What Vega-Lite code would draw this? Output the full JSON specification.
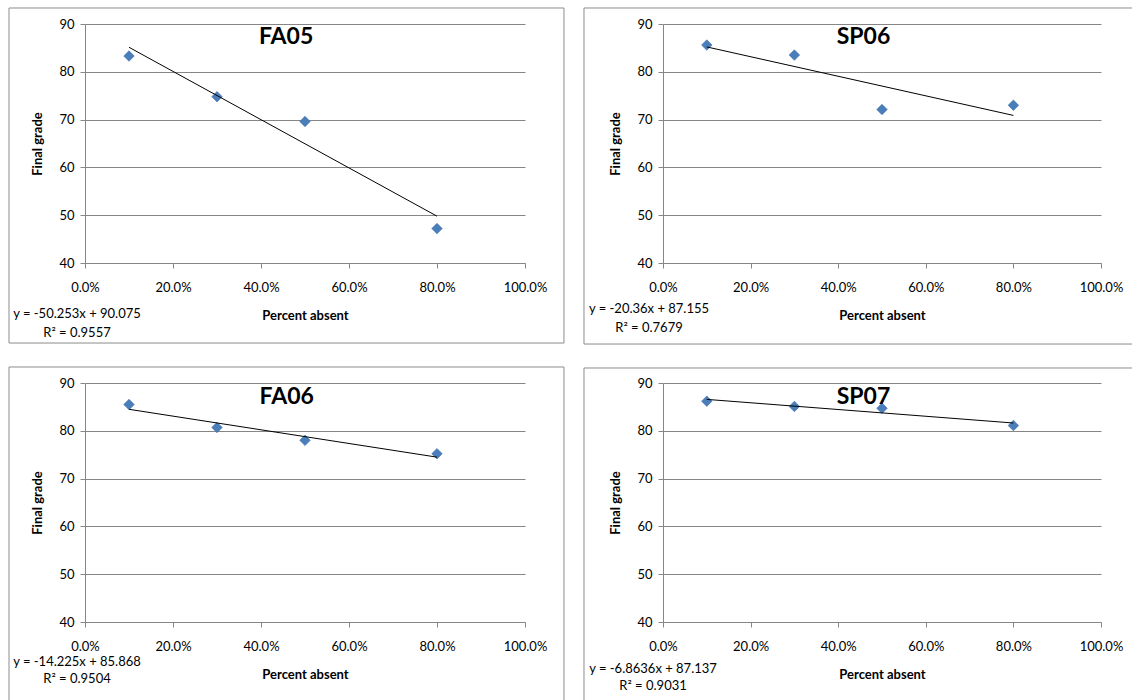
{
  "$schema": "https://vega.github.io/schema/vega-lite/v6.json",
  "background": "white",
  "padding": {"left": 8, "top": 7, "right": 0, "bottom": 0},
  "datasets": {
    "grades": [
      {"term": "FA05", "absent": 0.1, "grade": 83.3},
      {"term": "FA05", "absent": 0.3, "grade": 74.8},
      {"term": "FA05", "absent": 0.5, "grade": 69.6},
      {"term": "FA05", "absent": 0.8, "grade": 47.2},
      {"term": "SP06", "absent": 0.1, "grade": 85.6},
      {"term": "SP06", "absent": 0.3, "grade": 83.5},
      {"term": "SP06", "absent": 0.5, "grade": 72.1},
      {"term": "SP06", "absent": 0.8, "grade": 73.0},
      {"term": "FA06", "absent": 0.1, "grade": 85.5},
      {"term": "FA06", "absent": 0.3, "grade": 80.7},
      {"term": "FA06", "absent": 0.5, "grade": 78.0},
      {"term": "FA06", "absent": 0.8, "grade": 75.2},
      {"term": "SP07", "absent": 0.1, "grade": 86.2},
      {"term": "SP07", "absent": 0.3, "grade": 85.1},
      {"term": "SP07", "absent": 0.5, "grade": 84.7},
      {"term": "SP07", "absent": 0.8, "grade": 81.1}
    ],
    "panels": [
      {"term": "FA05", "eq": "y = -50.253x + 90.075", "r2": "R² = 0.9557"},
      {"term": "SP06", "eq": "y = -20.36x + 87.155", "r2": "R² = 0.7679"},
      {"term": "FA06", "eq": "y = -14.225x + 85.868", "r2": "R² = 0.9504"},
      {"term": "SP07", "eq": "y = -6.8636x + 87.137", "r2": "R² = 0.9031"}
    ]
  },
  "spacing": 21,
  "vconcat": [
    {
      "spacing": 18,
      "hconcat": [
        {
          "width": 440, "height": 239,
          "layer": [
            {
              "data": {"name": "grades"},
              "transform": [{"filter": "datum.term === 'FA05'"}],
              "mark": {"type": "point", "shape": "diamond", "filled": true, "size": 110, "color": "#4A7EBB", "stroke": "#3D6DA6", "strokeWidth": 0.6, "opacity": 1},
              "encoding": {
                "x": {"field": "absent", "type": "quantitative", "scale": {"domain": [0, 1]}, "axis": {"title": "Percent absent", "values": [0, 0.2, 0.4, 0.6, 0.8, 1], "format": ".1%"}},
                "y": {"field": "grade", "type": "quantitative", "scale": {"domain": [40, 90]}, "axis": {"title": "Final grade", "values": [40, 50, 60, 70, 80, 90]}}
              }
            },
            {
              "data": {"name": "grades"},
              "transform": [{"filter": "datum.term === 'FA05'"}, {"regression": "grade", "on": "absent"}],
              "mark": {"type": "line", "color": "#000000", "strokeWidth": 1},
              "encoding": {
                "x": {"field": "absent", "type": "quantitative", "scale": {"domain": [0, 1]}, "axis": {"title": "Percent absent", "values": [0, 0.2, 0.4, 0.6, 0.8, 1], "format": ".1%"}},
                "y": {"field": "grade", "type": "quantitative", "scale": {"domain": [40, 90]}, "axis": {"title": "Final grade", "values": [40, 50, 60, 70, 80, 90]}}
              }
            },
            {
              "data": {"name": "panels"},
              "transform": [{"filter": "datum.term === 'FA05'"}],
              "layer": [
                {"mark": {"type": "rect", "filled": false, "stroke": "#8c8c8c", "strokeWidth": 1},
                 "encoding": {"x": {"datum": -0.1727, "type": "quantitative", "scale": {"domain": [0, 1]}}, "x2": {"datum": 1.0886},
                              "y": {"datum": 93.35, "type": "quantitative", "scale": {"domain": [40, 90]}}, "y2": {"datum": 23.26}}},
                {"mark": {"type": "text", "fontSize": 23, "fontWeight": "bold", "align": "center", "baseline": "alphabetic", "color": "#000000"},
                 "encoding": {"x": {"datum": 0.457, "type": "quantitative", "scale": {"domain": [0, 1]}},
                              "y": {"datum": 85.82, "type": "quantitative", "scale": {"domain": [40, 90]}}, "text": {"field": "term"}}},
                {"mark": {"type": "text", "fontSize": 13, "align": "center", "baseline": "middle", "color": "#000000"},
                 "encoding": {"x": {"datum": -0.0182, "type": "quantitative", "scale": {"domain": [0, 1]}},
                              "y": {"datum": 29.33, "type": "quantitative", "scale": {"domain": [40, 90]}}, "text": {"field": "eq"}}},
                {"mark": {"type": "text", "fontSize": 13, "align": "center", "baseline": "middle", "color": "#000000"},
                 "encoding": {"x": {"datum": -0.0182, "type": "quantitative", "scale": {"domain": [0, 1]}},
                              "y": {"datum": 25.36, "type": "quantitative", "scale": {"domain": [40, 90]}}, "text": {"field": "r2"}}}
              ]
            }
          ]
        },
        {
          "width": 438, "height": 239,
          "layer": [
            {
              "data": {"name": "grades"},
              "transform": [{"filter": "datum.term === 'SP06'"}],
              "mark": {"type": "point", "shape": "diamond", "filled": true, "size": 110, "color": "#4A7EBB", "stroke": "#3D6DA6", "strokeWidth": 0.6, "opacity": 1},
              "encoding": {
                "x": {"field": "absent", "type": "quantitative", "scale": {"domain": [0, 1]}, "axis": {"title": "Percent absent", "values": [0, 0.2, 0.4, 0.6, 0.8, 1], "format": ".1%"}},
                "y": {"field": "grade", "type": "quantitative", "scale": {"domain": [40, 90]}, "axis": {"title": "Final grade", "values": [40, 50, 60, 70, 80, 90]}}
              }
            },
            {
              "data": {"name": "grades"},
              "transform": [{"filter": "datum.term === 'SP06'"}, {"regression": "grade", "on": "absent"}],
              "mark": {"type": "line", "color": "#000000", "strokeWidth": 1},
              "encoding": {
                "x": {"field": "absent", "type": "quantitative", "scale": {"domain": [0, 1]}, "axis": {"title": "Percent absent", "values": [0, 0.2, 0.4, 0.6, 0.8, 1], "format": ".1%"}},
                "y": {"field": "grade", "type": "quantitative", "scale": {"domain": [40, 90]}, "axis": {"title": "Final grade", "values": [40, 50, 60, 70, 80, 90]}}
              }
            },
            {
              "data": {"name": "panels"},
              "transform": [{"filter": "datum.term === 'SP06'"}],
              "layer": [
                {"mark": {"type": "rect", "filled": false, "stroke": "#8c8c8c", "strokeWidth": 1},
                 "encoding": {"x": {"datum": -0.1804, "type": "quantitative", "scale": {"domain": [0, 1]}}, "x2": {"datum": 1.0868},
                              "y": {"datum": 93.35, "type": "quantitative", "scale": {"domain": [40, 90]}}, "y2": {"datum": 23.05}}},
                {"mark": {"type": "text", "fontSize": 23, "fontWeight": "bold", "align": "center", "baseline": "alphabetic", "color": "#000000"},
                 "encoding": {"x": {"datum": 0.4578, "type": "quantitative", "scale": {"domain": [0, 1]}},
                              "y": {"datum": 85.82, "type": "quantitative", "scale": {"domain": [40, 90]}}, "text": {"field": "term"}}},
                {"mark": {"type": "text", "fontSize": 13, "align": "center", "baseline": "middle", "color": "#000000"},
                 "encoding": {"x": {"datum": -0.032, "type": "quantitative", "scale": {"domain": [0, 1]}},
                              "y": {"datum": 30.38, "type": "quantitative", "scale": {"domain": [40, 90]}}, "text": {"field": "eq"}}},
                {"mark": {"type": "text", "fontSize": 13, "align": "center", "baseline": "middle", "color": "#000000"},
                 "encoding": {"x": {"datum": -0.032, "type": "quantitative", "scale": {"domain": [0, 1]}},
                              "y": {"datum": 26.4, "type": "quantitative", "scale": {"domain": [40, 90]}}, "text": {"field": "r2"}}}
              ]
            }
          ]
        }
      ]
    },
    {
      "spacing": 18,
      "hconcat": [
        {
          "width": 440, "height": 239,
          "layer": [
            {
              "data": {"name": "grades"},
              "transform": [{"filter": "datum.term === 'FA06'"}],
              "mark": {"type": "point", "shape": "diamond", "filled": true, "size": 110, "color": "#4A7EBB", "stroke": "#3D6DA6", "strokeWidth": 0.6, "opacity": 1},
              "encoding": {
                "x": {"field": "absent", "type": "quantitative", "scale": {"domain": [0, 1]}, "axis": {"title": "Percent absent", "values": [0, 0.2, 0.4, 0.6, 0.8, 1], "format": ".1%"}},
                "y": {"field": "grade", "type": "quantitative", "scale": {"domain": [40, 90]}, "axis": {"title": "Final grade", "values": [40, 50, 60, 70, 80, 90]}}
              }
            },
            {
              "data": {"name": "grades"},
              "transform": [{"filter": "datum.term === 'FA06'"}, {"regression": "grade", "on": "absent"}],
              "mark": {"type": "line", "color": "#000000", "strokeWidth": 1},
              "encoding": {
                "x": {"field": "absent", "type": "quantitative", "scale": {"domain": [0, 1]}, "axis": {"title": "Percent absent", "values": [0, 0.2, 0.4, 0.6, 0.8, 1], "format": ".1%"}},
                "y": {"field": "grade", "type": "quantitative", "scale": {"domain": [40, 90]}, "axis": {"title": "Final grade", "values": [40, 50, 60, 70, 80, 90]}}
              }
            },
            {
              "data": {"name": "panels"},
              "transform": [{"filter": "datum.term === 'FA06'"}],
              "layer": [
                {"mark": {"type": "rect", "filled": false, "stroke": "#8c8c8c", "strokeWidth": 1},
                 "encoding": {"x": {"datum": -0.1727, "type": "quantitative", "scale": {"domain": [0, 1]}}, "x2": {"datum": 1.0886},
                              "y": {"datum": 93.35, "type": "quantitative", "scale": {"domain": [40, 90]}}, "y2": {"datum": 23.26}}},
                {"mark": {"type": "text", "fontSize": 23, "fontWeight": "bold", "align": "center", "baseline": "alphabetic", "color": "#000000"},
                 "encoding": {"x": {"datum": 0.4584, "type": "quantitative", "scale": {"domain": [0, 1]}},
                              "y": {"datum": 85.6, "type": "quantitative", "scale": {"domain": [40, 90]}}, "text": {"field": "term"}}},
                {"mark": {"type": "text", "fontSize": 13, "align": "center", "baseline": "middle", "color": "#000000"},
                 "encoding": {"x": {"datum": -0.0182, "type": "quantitative", "scale": {"domain": [0, 1]}},
                              "y": {"datum": 31.7, "type": "quantitative", "scale": {"domain": [40, 90]}}, "text": {"field": "eq"}}},
                {"mark": {"type": "text", "fontSize": 13, "align": "center", "baseline": "middle", "color": "#000000"},
                 "encoding": {"x": {"datum": -0.0182, "type": "quantitative", "scale": {"domain": [0, 1]}},
                              "y": {"datum": 28.0, "type": "quantitative", "scale": {"domain": [40, 90]}}, "text": {"field": "r2"}}}
              ]
            }
          ]
        },
        {
          "width": 438, "height": 239,
          "layer": [
            {
              "data": {"name": "grades"},
              "transform": [{"filter": "datum.term === 'SP07'"}],
              "mark": {"type": "point", "shape": "diamond", "filled": true, "size": 110, "color": "#4A7EBB", "stroke": "#3D6DA6", "strokeWidth": 0.6, "opacity": 1},
              "encoding": {
                "x": {"field": "absent", "type": "quantitative", "scale": {"domain": [0, 1]}, "axis": {"title": "Percent absent", "values": [0, 0.2, 0.4, 0.6, 0.8, 1], "format": ".1%"}},
                "y": {"field": "grade", "type": "quantitative", "scale": {"domain": [40, 90]}, "axis": {"title": "Final grade", "values": [40, 50, 60, 70, 80, 90]}}
              }
            },
            {
              "data": {"name": "grades"},
              "transform": [{"filter": "datum.term === 'SP07'"}, {"regression": "grade", "on": "absent"}],
              "mark": {"type": "line", "color": "#000000", "strokeWidth": 1},
              "encoding": {
                "x": {"field": "absent", "type": "quantitative", "scale": {"domain": [0, 1]}, "axis": {"title": "Percent absent", "values": [0, 0.2, 0.4, 0.6, 0.8, 1], "format": ".1%"}},
                "y": {"field": "grade", "type": "quantitative", "scale": {"domain": [40, 90]}, "axis": {"title": "Final grade", "values": [40, 50, 60, 70, 80, 90]}}
              }
            },
            {
              "data": {"name": "panels"},
              "transform": [{"filter": "datum.term === 'SP07'"}],
              "layer": [
                {"mark": {"type": "rect", "filled": false, "stroke": "#8c8c8c", "strokeWidth": 1},
                 "encoding": {"x": {"datum": -0.1804, "type": "quantitative", "scale": {"domain": [0, 1]}}, "x2": {"datum": 1.0868},
                              "y": {"datum": 93.14, "type": "quantitative", "scale": {"domain": [40, 90]}}, "y2": {"datum": 23.05}}},
                {"mark": {"type": "text", "fontSize": 23, "fontWeight": "bold", "align": "center", "baseline": "alphabetic", "color": "#000000"},
                 "encoding": {"x": {"datum": 0.4578, "type": "quantitative", "scale": {"domain": [0, 1]}},
                              "y": {"datum": 85.6, "type": "quantitative", "scale": {"domain": [40, 90]}}, "text": {"field": "term"}}},
                {"mark": {"type": "text", "fontSize": 13, "align": "center", "baseline": "middle", "color": "#000000"},
                 "encoding": {"x": {"datum": -0.0228, "type": "quantitative", "scale": {"domain": [0, 1]}},
                              "y": {"datum": 30.17, "type": "quantitative", "scale": {"domain": [40, 90]}}, "text": {"field": "eq"}}},
                {"mark": {"type": "text", "fontSize": 13, "align": "center", "baseline": "middle", "color": "#000000"},
                 "encoding": {"x": {"datum": -0.0228, "type": "quantitative", "scale": {"domain": [0, 1]}},
                              "y": {"datum": 26.61, "type": "quantitative", "scale": {"domain": [40, 90]}}, "text": {"field": "r2"}}}
              ]
            }
          ]
        }
      ]
    }
  ],
  "config": {
    "view": {"stroke": null},
    "font": "Lato",
    "axis": {
      "labelFont": "Lato", "labelFontSize": 13, "labelColor": "#000000",
      "titleFont": "Lato", "titleFontSize": 13, "titleFontWeight": "bold", "titleColor": "#000000",
      "domainColor": "#868686", "tickColor": "#868686", "gridColor": "#868686", "gridOpacity": 1,
      "tickSize": 5, "domainWidth": 1, "tickWidth": 1, "gridWidth": 1
    },
    "axisX": {"grid": false, "labelPadding": 13, "titlePadding": 15, "labelFlush": false, "labelOverlap": false},
    "axisY": {"grid": true, "labelPadding": 6, "titlePadding": 14},
    "text": {"font": "Lato"}
  }
}
